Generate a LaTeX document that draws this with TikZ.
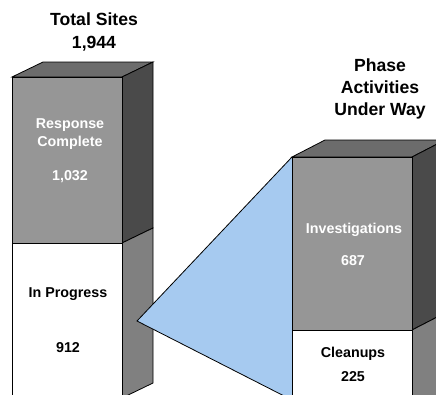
\documentclass[tikz,border=0pt]{standalone}
\usepackage{fontspec}
\setmainfont{Liberation Sans}
\definecolor{frontgray}{HTML}{969696}
\definecolor{topgray}{HTML}{6C6C6C}
\definecolor{sidedark}{HTML}{4A4A4A}
\definecolor{sidemid}{HTML}{808080}
\definecolor{wedgeblue}{HTML}{A6CAF0}
\tikzset{
  face/.style={draw=black, line width=0.8pt, line join=miter},
  title/.style={font=\bfseries\fontsize{17.6}{20}\selectfont, text=black, anchor=base, inner sep=0pt},
  lbl/.style={font=\bfseries\fontsize{14.3}{16}\selectfont, anchor=base, inner sep=0pt},
}
\begin{document}
\begin{tikzpicture}[x=1pt,y=-1pt]
\useasboundingbox (0,0) rectangle (436,394);
\clip (0,0) rectangle (436,394);

% left column: total sites
\fill[white] (0,0) rectangle (436,394);
\draw[face, fill=topgray] (12,77) -- (43,62) -- (153,62) -- (122,77) -- cycle;
\draw[face, fill=sidedark] (122,77) -- (153,62) -- (153,228) -- (122,243) -- cycle;
\draw[face, fill=sidemid] (122,243) -- (153,228) -- (153,383) -- (122,398) -- cycle;
\draw[face, fill=frontgray] (12,77) rectangle (122,243);
\draw[face, fill=white] (12,243) rectangle (122,400);

% wedge linking "In Progress" to the phase column
\coordinate (apex) at (137,321);
\coordinate (wtop) at (292,157);
\coordinate (wbot) at (292,400);
\fill[wedgeblue] (apex) -- (wtop) -- (wbot) -- cycle;
\draw[line width=0.8pt] (wtop) -- (apex) -- (wbot);

% right column: phase activities
\draw[face, fill=topgray] (292,157) -- (325,140) -- (445,140) -- (412,157) -- cycle;
\draw[face, fill=sidedark] (412,157) -- (445,140) -- (445,313) -- (412,330) -- cycle;
\draw[face, fill=sidemid] (412,330) -- (445,313) -- (445,420) -- (412,437) -- cycle;
\draw[face, fill=frontgray] (292,157) rectangle (412,330);
\draw[face, fill=white] (292,330) rectangle (412,420);

% titles
\node[title] (t1) at (94,25) {Total Sites};
\node[title] (t2) at (94,48) {1,944};
\node[title] (p1) at (380,71) {Phase};
\node[title] (p2) at (380,93) {Activities};
\node[title] (p3) at (380,115) {Under Way};

% labels on the columns
\node[lbl, text=white] (rc1) at (70,128) {Response};
\node[lbl, text=white] (rc2) at (70,146) {Complete};
\node[lbl, text=white] (rc3) at (70,180) {1,032};
\node[lbl] (ip1) at (68,297) {In Progress};
\node[lbl] (ip2) at (68,352) {912};
\node[lbl, text=white] (iv1) at (354,233) {Investigations};
\node[lbl, text=white] (iv2) at (353,265) {687};
\node[lbl] (cu1) at (353,357) {Cleanups};
\node[lbl] (cu2) at (353,381) {225};
\end{tikzpicture}
\end{document}
